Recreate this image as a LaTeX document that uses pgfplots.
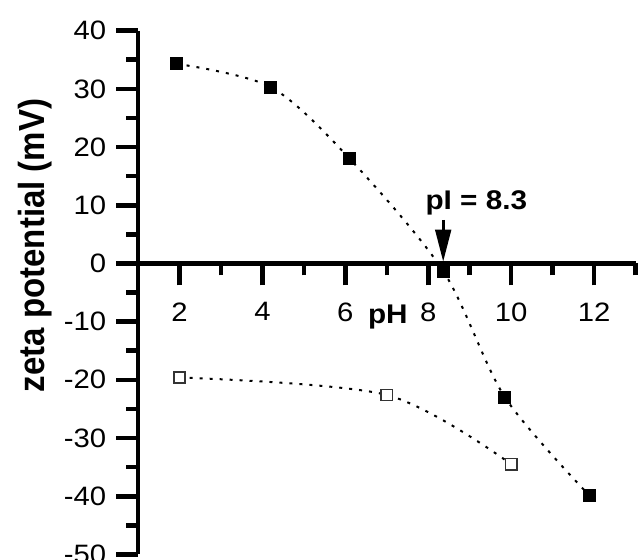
\documentclass[border=0pt]{standalone}
\usepackage{pgfplots}
\pgfplotsset{compat=1.18}
\usepackage{fontspec}
\setmainfont{Liberation Sans}
\newfontfamily\widesans[FakeStretch=1.1]{Liberation Sans}
\usetikzlibrary{arrows.meta}

\pgfplotstableread{
x y
1.93 34.3
4.20 30.3
6.09 18.1
8.36 -1.3
9.85 -23.0
11.89 -39.9
}\filled

\pgfplotstableread{
x y
2.0 -19.6
7.0 -22.6
10.0 -34.5
}\open

\begin{document}
\begin{tikzpicture}
\begin{axis}[
  x=20.725pt, y=2.91pt,
  xmin=1, xmax=13, ymin=-50, ymax=40,
  axis x line=middle, axis y line=left,
  axis line style={-, line width=2.3pt, black},
  xtick={2,4,...,12}, minor xtick={3,5,...,13},
  ytick={-50,-40,...,40}, minor ytick={-45,-35,...,35},
  tick align=outside,
  major tick length=11pt, minor tick length=6pt,
  every tick/.style={black, line width=2.3pt},
  /pgf/number format/assume math mode=true,
  tick label style={font=\widesans\fontsize{13.3}{15}\selectfont},
  xticklabel style={yshift=-5pt},
  yticklabel style={xshift=-1.5pt},
  xlabel={pH}, ylabel={zeta potential (mV)},
  every axis x label/.style={at={(axis description cs:0.502,0.4414)}, anchor=base, font=\widesans\bfseries\fontsize{13.5}{16}\selectfont},
  every axis y label/.style={at={(axis description cs:-0.188,0.590)}, anchor=base, rotate=90, yscale=1.1, font=\bfseries\fontsize{16.5}{19}\selectfont},
  clip=false,
]
\addplot[black, line width=1pt, dash pattern=on 1.5pt off 3.5pt, smooth,
  mark=square*, mark size=3pt, mark options={solid, line width=0.5pt, fill=black}]
  table[x=x,y=y] {\filled};
\addplot[black, line width=1pt, dash pattern=on 1.5pt off 3.5pt, smooth,
  mark=square*, mark size=2.8pt, mark options={solid, line width=0.75pt, draw=black!80, fill=white}]
  table[x=x,y=y] {\open};
\draw[-{Triangle[length=16pt,width=7.8pt]}, line width=1.5pt] (axis cs:8.36,7.5) -- (axis cs:8.36,0.3);
\node[anchor=base, font=\widesans\bfseries\fontsize{13.5}{16}\selectfont] at (axis cs:9.16,9.31) {pI = 8.3};
\coordinate (BL) at (axis cs:-2.333,-50.95);
\coordinate (TR) at (axis cs:13.06,45.27);
\end{axis}
\pgfresetboundingbox
\useasboundingbox (BL) rectangle (TR);
\end{tikzpicture}
\end{document}
